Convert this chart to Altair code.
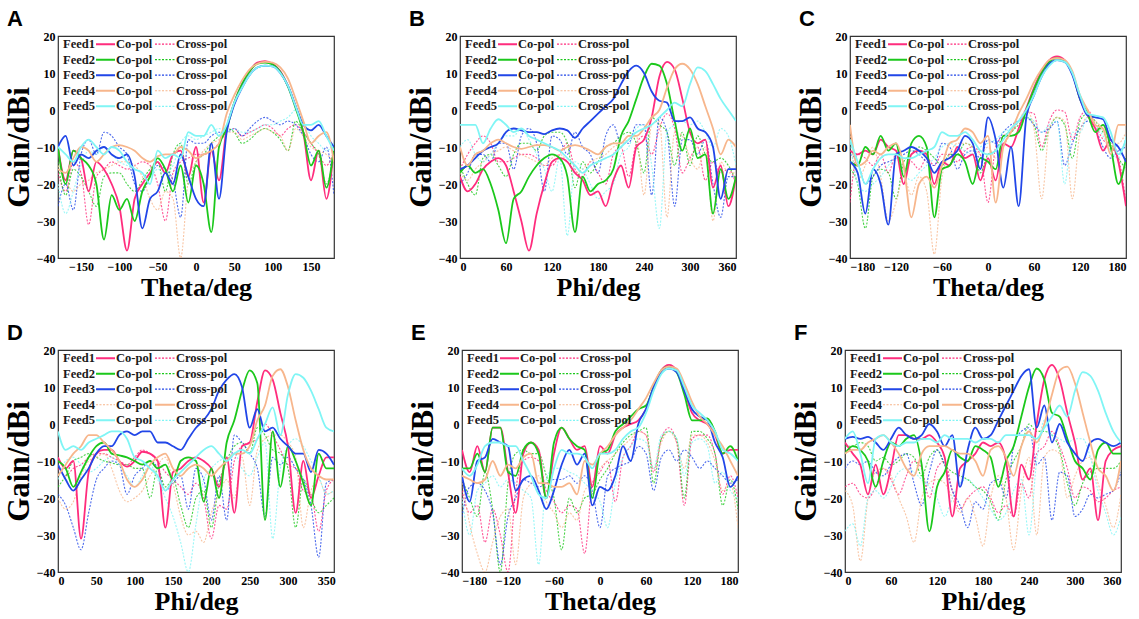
import altair as alt
import pandas as pd

THETA = list(range(-180, 181, 10))
PHI = list(range(0, 361, 10))
FEEDS = ["Feed1", "Feed2", "Feed3", "Feed4", "Feed5"]
POLS = ["Co-pol", "Cross-pol"]
FEED_COLORS = ["#FF2C7D", "#1BC81B", "#2146E8", "#F7B68C", "#80F5F5"]
Y_TICKS = [-40, -30, -20, -10, 0, 10, 20]

# ---------------- Panel A (Theta) ----------------
A_CO = [
    [-10,-19,-11,-13,-22,-14,-16,-20,-26,-38,-24,-20,-17,-14,-17,-12,-11,-18,-10,-25,-11,-19,-5,2,7,10.5,12.8,13.2,12.5,10.5,6.5,1,-6,-19,-11,-24,-10],
    [-10,-20,-11,-13,-15,-20,-35,-23,-27,-24,-30,-22,-18,-13,-16,-22,-15,-25,-15,-20,-33,-10,-5,2,7,10.5,12.5,12.8,12.3,10.3,6.3,0.5,-6,-15,-11,-21,-10],
    [-10,-7,-15,-12,-13,-11,-10,-12,-13,-12,-18,-32,-24,-22,-17,-20,-12,-18,-24,-26,-9,-24,-6,1.5,6,9.5,11.5,12,11.8,10,6.5,1,-4,-5.5,-4,-7,-10],
    [-16,-17,-13,-10,-11,-14,-12,-10,-9.5,-10,-11,-13,-14,-12.5,-12,-12,-10,-11,-13,-12,-11,-9,-1,4,8,11,12.5,13,12.8,11.5,8.5,3,-3,-9,-7,-6,-14],
    [-10,-12,-14,-10,-8,-10,-12,-10,-11,-14,-16,-17,-20,-11,-13,-12,-13,-6,-7,-7,-4,-7,-4,2,6,9.5,11.5,12,11.8,10,6.5,1,-4,-4,-3,-7,-11],
]
A_XP = [
    [-17,-22,-14,-17,-31,-18,-16,-14,-15,-16,-15,-14,-15,-20,-30,-17,-14,-13,-12,-12,-11,-9,-6,-5,-7,-6,-5,-4,-5,-7,-5,-4,-6,-9,-12,-15,-11],
    [-14,-23,-16,-18,-22,-26,-18,-17,-17,-20,-22,-19,-16,-14,-22,-12,-9,-20,-14,-12,-9,-7,-5,-6,-9,-8,-6,-5,-6,-8,-11,-3,-6,-9,-12,-20,-12],
    [-26,-20,-27,-12,-8,-12,-6,-7,-10,-12,-20,-22,-18,-15,-16,-19,-29,-8,-9,-9,-7,-6,-6,-5,-7,-5,-3,-2,-3,-4,-3,-4,-7,-12,-14,-10,-23],
    [-15,-19,-22,-20,-19,-17,-16,-15,-14,-14,-15,-18,-24,-27,-22,-24,-40,-19,-14,-11,-9,-8,-6,-6,-8,-7,-6,-5,-6,-7,-11,-5,-7,-10,-11,-12,-14],
    [-20,-28,-22,-15,-11,-12,-10,-12,-14,-15,-16,-17,-18,-16,-17,-15,-9,-7,-8,-7,-6,-5,-6,-5,-6,-6,-5,-4,-4,-3,-2,0,-3,-7,-9,-11,-9],
]

# ---------------- Panel B (Phi) ----------------
B_CO = [
    [-18,-22,-20,-16,-14,-13,-15,-22,-30,-38,-28,-20,-14,-13,-14,-17,-19,-23,-22,-26,-19,-15,-21,-10,-8,-2,9,13,11,3,-6,-9,-8,-21,-15,-26,-18],
    [-17,-15,-17,-16,-20,-27,-36,-24,-22,-18,-15,-13,-12,-13,-18,-33,-18,-22,-20,-19,-16,-7,-3,3,9,12.5,12,7,-3,-11,-5,-13,-12,-28,-16,-24,-18],
    [-16,-15,-13,-11,-10,-9,-6,-5,-5.5,-6,-6,-6.5,-5.5,-5,-5.5,-7.5,-5,-3,-1,1,3,7,10.5,12,10,5,2.5,2,-3,-3,-2,-5,-6,-10,-24,-16,-16],
    [-10,-15,-12,-11,-9,-8,-9,-10,-10.5,-10,-9.5,-9.5,-10,-11,-10,-9.5,-10,-11,-12,-10,-9,-9,-7,-7,-5,-2,0,6,11,12.5,11,7,1,-5,-12,-8,-10],
    [-4,-4,-4,-9,-5,-2.5,-4,-6,-5,-7,-8,-9,-10,-11,-13,-15,-17,-15,-14,-13,-12,-10,-8,-6,-5,-4,-2,0,2,1,7,11.5,10.5,7,3,0,-3],
]
B_XP = [
    [-16,-12,-9,-7,-9,-14,-14,-13,-12,-12,-13,-15,-15,-12,-9,-16,-18,-14,-17,-20,-12,-10,-18,-9,-7,-12,-5,-1,-5,-17,-13,-10,-19,-14,-17,-16,-20],
    [-15,-20,-23,-13,-12,-15,-18,-12,-9,-9,-11,-7,-6,-6,-9,-21,-14,-17,-14,-10,-9,-7,-6,-9,-17,-2,-4,-6,-15,-6,-15,-7,-12,-14,-13,-15,-19],
    [-20,-17,-12,-12,-14,-9,-9,-16,-7,-5,-9,-22,-7,-8,-12,-6,-10,-12,-17,-7,-4,-9,-9,-4,-4,-23,-2,-6,-26,-8,-8,-12,-8,-20,-29,-18,-18],
    [-17,-19,-16,-14,-12,-11,-10,-11,-12,-13,-14,-15,-13,-12,-14,-17,-16,-14,-13,-12,-10,-9,-8,-7,-23,-4,-3,-29,-6,-7,-13,-16,-10,-30,-14,-17,-17],
    [-10,-8,-12,-14,-12,-9,-7,-7,-5,-8,-12,-16,-22,-13,-34,-14,-16,-20,-24,-22,-20,-12,-10,-5,-4,-15,-32,-6,-4,-3,-4,-3,-6,-10,-5,-7,-15],
]

# ---------------- Panel C (Theta) ----------------
C_CO = [
    [-11,-12,-11,-12,-8,-10,-11,-20,-12,-11,-12,-20,-14,-15,-10,-13,-12,-19,-13,-19,-9,-10,-5,0.5,6,10.5,13.5,14.5,13.5,10,3,-1.5,-5,-11,-8,-14,-26],
    [-14,-15,-10,-12,-7,-11,-9,-18,-9,-7,-10,-29,-16,-15,-12,-14,-20,-13,-14,-16,-7,-7,-6,0,5.5,10,13,14,13.2,10,3,-1,-6,-4,-10,-20,-13],
    [-14,-17,-28,-16,-20,-31,-12,-11,-10,-11,-13,-17,-14,-13,-11,-7,-9,-16,-2,-8,-21,-10,-26,-2,4,9,12.5,13.5,13,9.5,3,-1.5,-2,-2.5,-8,-10,-14],
    [-4,-15,-14,-11,-12,-10,-9,-15,-29,-20,-18,-21,-15,-9,-8,-5,-6,-9,-7,-25,-10,-6,-1,3,7.5,11,13.5,14,13.5,10.5,4,0,-4,-5,-12,-4,-4],
    [-8,-14,-20,-16,-13,-12,-12,-13,-13,-12,-11,-10,-6,-7,-7,-6,-8,-11,-12,-11,-8,-5,-3,0,4,9,12,13.5,13,10,4,-1,-1.5,-2,-6,-12,-8],
]
C_XP = [
    [-25,-12,-13,-15,-12,-17,-12,-16,-14,-16,-13,-15,-12,-12,-14,-11,-10,-12,-25,-10,-7,-6,-3,-0.5,-1,-10,-3,0,-0.5,-8,-2,0,-4,-8,-10,-13,-25],
    [-16,-20,-32,-18,-16,-17,-24,-14,-12,-10,-11,-13,-15,-12,-12,-9,-10,-17,-12,-11,-7,-6,-4,-2,-4,-11,-5,-2,-4,-13,-3,-1,-3,-6,-9,-13,-16],
    [-12,-14,-20,-18,-15,-14,-13,-12,-11,-12,-14,-15,-9,-10,-16,-12,-11,-13,-8,-9,-6,-4,-3,-2,-4,-6,-5,-3,-15,-9,-5,-3,-5,-10,-13,-11,-10],
    [-6,-19,-15,-10,-18,-30,-25,-18,-23,-18,-22,-39,-18,-12,-9,-9,-10,-12,-10,-13,-10,-6,-3,0,-5,-24,-5,-2,-3,-24,-6,-2,-3,-5,-8,-9,-6],
    [-8,-20,-22,-20,-18,-15,-13,-17,-19,-17,-15,-13,-10,-9,-10,-11,-12,-10,-9,-8,-6,-5,-3,-2,-3,-6,-4,-3,-20,-6,-6,-2,-4,-7,-11,-13,-7],
]

# ---------------- Panel D (Phi) ----------------
D_CO = [
    [-9,-12,-10,-31,-13,-8,-7,-7,-10,-11.5,-10,-7.5,-8,-10,-28,-13,-12,-10,-9,-10,-12,-17,-9,-24,-6,-5,6,14.5,12,3,-6,-24,-10,-20,-14,-9,-9],
    [-10,-12,-17,-13,-9,-6,-5,-8,-8.5,-9,-10,-11,-10,-12,-11,-15,-10,-9,-10,-21,-12,-20,-5,1,9,14.5,11,-26,-2,-17,-6,-10,-16,-22,-8,-12,-12],
    [-11,-15,-18,-15,-12,-8,-6,-6,-3,-2,-3,-2,-2,-5,-5,-6,-7,-4,-1,1,4,9,12,13.5,10,-1,4,-2,-1,-4,-6,-8,-8,-13,-7,-8,-11],
    [-20,-23,-21,-14,-10,-9,-8,-12,-18,-21,-20,-18,-14,-11,-9,-16,-25,-30,-29,-32,-24,-19,-15,-20,-9,-22,-7,-4,-3,-3,-5,-9,-28,-18,-15,-19,-18],
    [-2,-7,-6,-7,-5,-4,-3,-2,-2,-4,-9,-10,-12,-14,-18,-15,-13,-11,-9,-7,-6,-8,-10,-8,-7,-8,-4,0,4.5,-3,8,13.5,12.5,9,4,-1,-2],
]
D_XP = [
    [-12,-14,-12,-11,-9,-8,-8,-9,-10,-11,-9,-7,-8,-10,-13,-15,-17,-19,-16,-20,-31,-22,-23,-10,-6,-5,-4,0,-3,-7,-11,-12,-18,-19,-29,-18,-15],
    [-17,-14,-10,-9,-8,-9,-10,-10.5,-11,-11,-12,-12,-20,-12,-17,-15,-22,-28,-20,-18,-28,-16,-10,-6,-5,-8,-1,-3,-7,-8,-12,-28,-15,-20,-24,-22,-20],
    [-19,-22,-28,-34,-24,-15,-12,-10,-11,-19,-14,-12,-10,-12,-18,-16,-14,-23,-12,-15,-26,-14,-26,-3,-5,-8,-12,-25,-9,-11,-9,-12,-15,-22,-36,-16,-15],
    [-14,-11,-8,-6,-3,-3,-5,-7,-10,-15,-17,-15,-11,-9,-8,-12,-14,-12,-11,-12,-14,-12,-10,-8,-8,-6,1,5,13,14.8,10,1,-7,-12,-14,-15,-15],
    [-15,-10,-9,-11,-13,-12,-10,-9,-11,-14,-17,-14,-11,-15,-20,-25,-32,-40,-27,-15,-12,-10,-9,-8,-12,-14,-9,-5,-31,-12,-6,-4,-6,-10,-14,-19,-18],
]

# ---------------- Panel E (Theta) ----------------
E_CO = [
    [-7,-13,-6,-13,-1,-1,-13,-24,-8,-5,-7,-20,-8,-1,-4,-7,-6,-17,-6,-8,-3,-1,0,1,4,10,14.5,16,14.5,9,3,1,0,-3,-8,-7,-7],
    [-12,-12,-8,-13,-1,-1,-13,-14,-7,-5,-8,-20,-5,-1,-4,-6,-7,-20,-8,-7,-2,0,2,4,5,10,14.5,15.5,14,8,1,1,1.5,-2,-8,-6,-10],
    [-14,-21,-10,-9,-4,-5,-6,-18,-15,-14,-18,-23,-18,-11,-7,-11,-8,-22,-17,-18,-14,-6,-10,0,4,10,14,15,14,9,4,2,1,-5,-9,-17,-14],
    [-14,-15,-16,-15,-10,-14,-11,-12,-9,-8,-16,-16,-17,-17,-16,-19,-10,-11,-8,-6,-3,-1,1,4,7,11,14.5,15.5,15,11,6,2,0,-3,-6,-10,-14],
    [-12,-14,-11,-6,-5,-5,-6,-6,-10,-14,-19,-20,-12,-7,-8,-8,-9,-12,-8,-8,-7,-4,-2,-1,3,9,13.5,15,14.5,10,5,3,1,-2,-7,-8,-10],
]
E_XP = [
    [-18,-24,-22,-32,-23,-30,-40,-18,-10,-9,-10,-18,-21,-24,-22,-23,-35,-16,-13,-10,-21,-9,-6,-2,-3,-13,-4,-1,-5,-22,-4,-3,-3,-8,-19,-14,-20],
    [-15,-20,-25,-13,-23,-40,-16,-8,-7,-8,-8,-14,-20,-34,-20,-24,-20,-19,-15,-12,-8,-5,-3,-2,-1,-16,-4,-2,-4,-20,-2,-2,-4,-8,-22,-15,-23],
    [-25,-17,-16,-18,-24,-38,-25,-20,-15,-16,-17,-16,-15,-15,-14,-16,-14,-18,-28,-14,-12,-11,-10,-6,-8,-18,-9,-7,-10,-7,-9,-12,-10,-12,-14,-16,-15],
    [-15,-27,-35,-40,-32,-25,-23,-38,-20,-16,-14,-21,-24,-28,-24,-26,-18,-16,-12,-10,-8,-6,-4,-2,-3,-12,-5,-2,-5,-12,-3,-3,-5,-10,-18,-16,-28],
    [-20,-30,-18,-16,-14,-17,-15,-16,-18,-20,-38,-15,-12,-12,-13,-14,-16,-18,-21,-28,-16,-9,-6,-4,-5,-12,-3,-2,-4,-14,-5,-4,-6,-16,-13,-18,-20],
]

# ---------------- Panel F (Phi) ----------------
F_CO = [
    [-5,-8,-11,-19,-11,-19,-12,-3,-3,-4,-4,-3,-5,-9,-25,-12,-10,-8,-5,-6,-5,-10,-25,-11,-15,0,12,16,12,3,-5,-15,-12,-26,-10,-7,-6],
    [-8,-6,-7,-10,-17,-10,-5,-6,-4,-3,-11,-29,-17,-13,-7,-9,-10,-6,-7,-9,-17,-10,-6,2,10,15,12,3,2,-4,-10,-12,-15,-7,-5,-8,-8],
    [-4,-3.5,-4,-3.5,-5,-7,-4,-1,-3,-4,-3,0,-2,-6,-3,-17,-7,-1,-4,-3,1,5,9,13,14.8,-1,5,-5,0,-5,-8,-10,-5,-4,-5,-6,-5],
    [-18,-22,-37,-20,-13,-12,-14,-20,-25,-32,-20,-16,-15,-16,-20,-24,-20,-25,-33,-20,-14,-20,-34,-18,-9,-30,-9,-7,-8,-20,-14,-10,-9,-16,-22,-28,-19],
    [-4,-2,-8,-16,-4,-3,-5,-6,-5,-5,-4,-4,-5,-3,-4,-4,-4,-5,-4,-4,-5,-3,-3,-3,-3,-4,-1,2,5,2,9,14,13,9,3,-2,-5],
]
F_XP = [
    [-17,-16,-19,-20,-17,-12,-15,-19,-14,-10,-12,-20,-12,-10,-18,-23,-20,-18,-17,-20,-24,-22,-25,-16,-20,-8,-6,-2,-6,-12,-20,-17,-18,-21,-20,-18,-17],
    [-6,-6,-5,-6,-10,-9,-11,-10,-8,-9,-14,-9,-7,-11,-13,-14,-15,-17,-18,-21,-26,-15,-10,-6,0,-2,-2,-3,-7,-16,-22,-16,-13,-12,-12,-12,-10],
    [-12,-10,-11,-10,-13,-14,-11,-9,-8,-16,-22,-13,-7,-11,-18,-22,-28,-21,-23,-16,-15,-20,-6,-2,-1,-11,-9,-26,-13,-14,-25,-23,-19,-20,-19,-18,-13],
    [-8,-7,-7,-5,-4,-3,-5,-8,-12,-14,-8,-6,-6,-6,-7,-8,-8,-10,-14,-7,-6,-9,-14,-6,-2,-5,0,8,14.5,15.5,11,3,-5,-12,-14,-18,-10],
    [-29,-27,-33,-20,-18,-20,-17,-13,-12,-13,-15,-17,-20,-25,-20,-16,-15,-17,-20,-23,-26,-24,-18,-15,-30,-10,1,-3,-4,-5,-4,-4,-9,-18,-24,-30,-25],
]

THETA_TICKS_A = [-150, -100, -50, 0, 50, 100, 150]
THETA_TICKS = [-180, -120, -60, 0, 60, 120, 180]
PHI_TICKS = [0, 60, 120, 180, 240, 300, 360]
PHI_TICKS_D = [0, 50, 100, 150, 200, 250, 300, 350]

SERIF = "Liberation Serif"
COLOR_SCALE = alt.Scale(domain=FEEDS, range=FEED_COLORS)
DASH_SCALE = alt.Scale(domain=["solid", "dotted"], range=[[1, 0], [2, 1.5]])
WIDTH_SCALE = alt.Scale(domain=["solid", "dotted"], range=[2, 1.2])

PW, PH = 276, 222


def swapped(swap4, i, pol):
    # in panels D and F the Feed4 legend row shows a dotted "Co-pol" and a solid "Cross-pol"
    solid = pol == POLS[0]
    if swap4 and i == 3:
        solid = not solid
    return "solid" if solid else "dotted"


def panel(letter, xtitle, xs, co, xp, xticks, swap4):
    rows = []
    for i, feed in enumerate(FEEDS):
        for pol, vals in ((POLS[0], co[i]), (POLS[1], xp[i])):
            st = swapped(swap4, i, pol)
            for xv, g in zip(xs, vals):
                rows.append({"x": xv, "gain": g, "feed": feed, "pol": pol,
                             "style": st, "series": feed + " " + pol})
    df = pd.DataFrame(rows)

    leg = pd.DataFrame({
        "feed": FEEDS,
        "gain": [17.8 - 4.2 * i for i in range(len(FEEDS))],
        "co_label": [POLS[0]] * len(FEEDS),
        "cross_label": [POLS[1]] * len(FEEDS),
        "co_style": [swapped(swap4, i, POLS[0]) for i in range(len(FEEDS))],
        "cross_style": [swapped(swap4, i, POLS[1]) for i in range(len(FEEDS))],
    })

    X = alt.X("x:Q", scale=alt.Scale(domain=[xs[0], xs[-1]], nice=False, zero=False),
              axis=alt.Axis(values=xticks, title=xtitle, titleFontSize=26, titlePadding=2))
    Y = alt.Y("gain:Q", scale=alt.Scale(domain=[-40, 20], nice=False, zero=False),
              axis=alt.Axis(values=Y_TICKS, title="Gain/dBi", titleFontSize=31, titlePadding=1))
    C = alt.Color("feed:N", scale=COLOR_SCALE, legend=None)

    base = alt.Chart(df)
    dotted = base.transform_filter(alt.datum.style == "dotted").mark_line(
        strokeWidth=1.1, strokeDash=[2, 1.5], clip=True, interpolate="monotone", opacity=0.8
    ).encode(x=X, y=Y, color=C, detail="series:N")
    solid = base.transform_filter(alt.datum.style == "solid").mark_line(
        strokeWidth=1.8, clip=True, interpolate="monotone"
    ).encode(x=X, y=Y, color=C, detail="series:N")

    lbase = alt.Chart(leg)
    tstyle = dict(align="left", baseline="middle", font=SERIF, fontWeight="bold",
                  fontSize=12.5, color="#1a1a1a")
    t_feed = lbase.mark_text(**tstyle).encode(x=alt.value(5), y=Y, text="feed:N")
    t_co = lbase.mark_text(**tstyle).encode(x=alt.value(58), y=Y, text="co_label:N")
    t_cross = lbase.mark_text(**tstyle).encode(x=alt.value(118), y=Y, text="cross_label:N")
    r_co = lbase.mark_rule().encode(
        x=alt.value(38), x2=alt.value(57), y=Y, color=C,
        strokeDash=alt.StrokeDash("co_style:N", scale=DASH_SCALE, legend=None),
        strokeWidth=alt.StrokeWidth("co_style:N", scale=WIDTH_SCALE, legend=None))
    r_cross = lbase.mark_rule().encode(
        x=alt.value(97), x2=alt.value(117), y=Y, color=C,
        strokeDash=alt.StrokeDash("cross_style:N", scale=DASH_SCALE, legend=None),
        strokeWidth=alt.StrokeWidth("cross_style:N", scale=WIDTH_SCALE, legend=None))

    return alt.layer(dotted, solid, r_co, r_cross, t_feed, t_co, t_cross).properties(
        width=PW, height=PH,
        title=alt.TitleParams(text=letter, anchor="start", frame="group", dx=-51, dy=1, offset=0,
                              fontSize=22, font="Liberation Sans", fontWeight="bold",
                              color="black"),
    )


pA = panel("A", "Theta/deg", THETA, A_CO, A_XP, THETA_TICKS_A, False)
pB = panel("B", "Phi/deg", PHI, B_CO, B_XP, PHI_TICKS, False)
pC = panel("C", "Theta/deg", THETA, C_CO, C_XP, THETA_TICKS, False)
pD = panel("D", "Phi/deg", PHI, D_CO, D_XP, PHI_TICKS_D, True)
pE = panel("E", "Theta/deg", THETA, E_CO, E_XP, THETA_TICKS, False)
pF = panel("F", "Phi/deg", PHI, F_CO, F_XP, PHI_TICKS, True)

row1 = alt.hconcat(pA, alt.hconcat(pB, pC, spacing=57), spacing=69)
row2 = alt.hconcat(pD, alt.hconcat(pE, pF, spacing=50), spacing=70)

chart = alt.vconcat(row1, row2, spacing=20).properties(
    padding={"left": 2, "top": 7, "right": 0, "bottom": 0},
    background="white",
).configure_view(stroke="#333333", strokeWidth=1.2).configure_axis(
    labelFont=SERIF, labelFontWeight="bold", labelFontSize=12, labelColor="black",
    titleFont=SERIF, titleFontWeight="bold", titleColor="black",
    ticks=False, domain=False, grid=False, labelPadding=3,
).configure_concat(spacing=20)

chart.save("out.html", embed_options={"renderer": "svg", "actions": False})
